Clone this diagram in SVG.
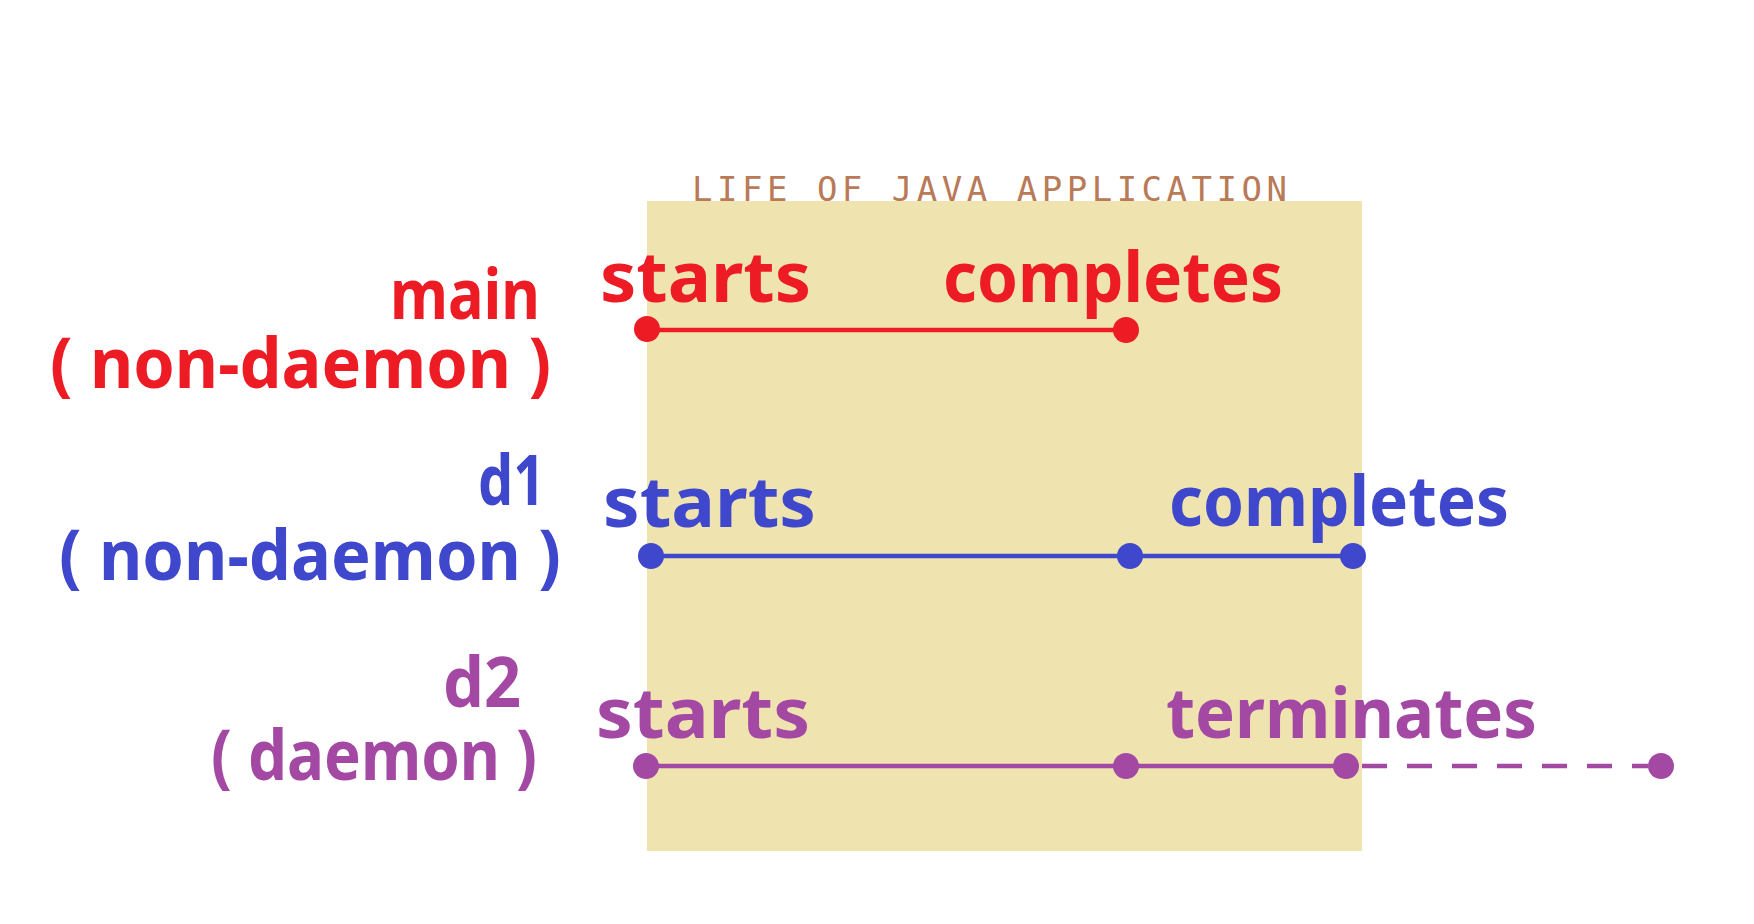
<svg xmlns="http://www.w3.org/2000/svg" width="1754" height="924" viewBox="0 0 1754 924">
  <style>
    .lbl { font-family: "Noto Sans", "DejaVu Sans", sans-serif; font-weight: bold; font-size: 70px; }
    .title { font-family: "DejaVu Sans Mono", "Liberation Mono", monospace; font-size: 34px; fill: #b97a57; }
    .red { fill: #ed1c24; }
    .blue { fill: #3f48cc; }
    .purple { fill: #a349a4; }
    .lred { stroke: #ed1c24; stroke-width: 4.5; fill: none; }
    .lblue { stroke: #3f48cc; stroke-width: 4.5; fill: none; }
    .lpurple { stroke: #a349a4; stroke-width: 4.5; fill: none; }
    .dash { stroke-dasharray: 25 20; }
  </style>
  <rect width="1754" height="924" fill="#ffffff"/>

  <g id="application-life">
    <rect x="647" y="201" width="715" height="650" fill="#efe4b0"/>
    <text class="title" x="692" y="201" textLength="595" lengthAdjust="spacing">LIFE OF JAVA APPLICATION</text>
  </g>

  <g id="main-label">
    <text class="lbl red" x="390" y="319" textLength="150" lengthAdjust="spacingAndGlyphs">main</text>
    <text class="lbl red" x="50" y="388" textLength="501" lengthAdjust="spacingAndGlyphs">( non-daemon )</text>
  </g>
  <g id="d1-label">
    <text class="lbl blue" x="478" y="505" textLength="67" lengthAdjust="spacingAndGlyphs">d1</text>
    <text class="lbl blue" x="59" y="580" textLength="502" lengthAdjust="spacingAndGlyphs">( non-daemon )</text>
  </g>
  <g id="d2-label">
    <text class="lbl purple" x="443" y="707" textLength="78" lengthAdjust="spacingAndGlyphs">d2</text>
    <text class="lbl purple" x="211" y="780" textLength="326" lengthAdjust="spacingAndGlyphs">( daemon )</text>
  </g>

  <g id="connectors">
    <line class="lred" x1="647" y1="330" x2="1126" y2="330"/>
    <line class="lblue" x1="651" y1="556" x2="1353" y2="556"/>
    <line class="lpurple" x1="646" y1="766" x2="1346" y2="766"/>
    <line class="lpurple dash" x1="1362" y1="766" x2="1648" y2="766"/>
  </g>

  <g id="main-thread">
    <text class="lbl red" x="600" y="302" textLength="211" lengthAdjust="spacingAndGlyphs">starts</text>
    <text class="lbl red" x="943" y="302" textLength="340" lengthAdjust="spacingAndGlyphs">completes</text>
    <circle class="red" cx="647" cy="329" r="13"/>
    <circle class="red" cx="1126" cy="330" r="13"/>
  </g>

  <g id="d1-thread">
    <text class="lbl blue" x="603" y="527" textLength="213" lengthAdjust="spacingAndGlyphs">starts</text>
    <text class="lbl blue" x="1169" y="526" textLength="340" lengthAdjust="spacingAndGlyphs">completes</text>
    <circle class="blue" cx="651" cy="556" r="13"/>
    <circle class="blue" cx="1130" cy="556" r="13"/>
    <circle class="blue" cx="1353" cy="556" r="13"/>
  </g>

  <g id="d2-thread">
    <text class="lbl purple" x="596" y="738" textLength="214" lengthAdjust="spacingAndGlyphs">starts</text>
    <text class="lbl purple" x="1166" y="738" textLength="371" lengthAdjust="spacingAndGlyphs">terminates</text>
    <circle class="purple" cx="646" cy="766" r="13"/>
    <circle class="purple" cx="1126" cy="766" r="13"/>
    <circle class="purple" cx="1346" cy="766" r="13"/>
    <circle class="purple" cx="1661" cy="766" r="13"/>
  </g>
</svg>
